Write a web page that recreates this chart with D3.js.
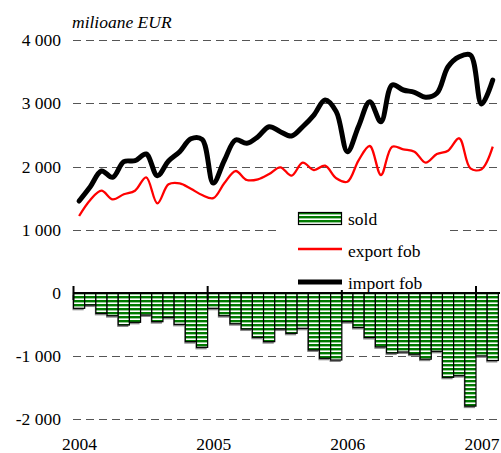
<!DOCTYPE html>
<html>
<head>
<meta charset="utf-8">
<script src="https://cdn.jsdelivr.net/npm/d3@7"></script>
</head>
<body style="margin:0;background:#fff">
<svg id="chart" style="display:block"></svg>
<script>
const width = 501;
const height = 453;
const serif = "'Liberation Serif', serif";

// monthly data, Jan 2004 - Feb 2007 (milioane EUR)
const years = [2004, 2005, 2006, 2007];
const exportFob = [1218, 1472, 1619, 1482, 1562, 1619, 1830, 1419, 1720, 1736, 1650, 1550,
	1500, 1740, 1930, 1788, 1799, 1883, 1989, 1856, 2062, 1946, 2014, 1815,
	1761, 2100, 2326, 1867, 2315, 2274, 2236, 2062, 2199, 2252, 2448, 1973,
	1960, 2315];
const importFob = [1456, 1682, 1930, 1830, 2078, 2093, 2199, 1856, 2089, 2236, 2440, 2430,
	1740, 2100, 2421, 2368, 2473, 2631, 2552, 2484, 2631, 2816, 3054, 2870,
	2236, 2640, 3027, 2710, 3291, 3212, 3176, 3097, 3160, 3581, 3739, 3766,
	2990, 3370];
const sold = [-242, -190, -322, -359, -506, -464, -348, -454, -385, -496, -770, -860,
	-242, -359, -486, -570, -701, -770, -570, -638, -559, -902, -1033, -1060,
	-454, -546, -704, -852, -949, -933, -968, -1047, -923, -1334, -1308, -1790,
	-995, -1068];
const yTicks = [-2000, -1000, 0, 1000, 2000, 3000, 4000];

const svg = d3.select("#chart").attr("width", width).attr("height", height);

const x = d3.scaleLinear().domain([0, sold.length]).range([73.5, 73.5 + sold.length * 11.18]);
const y = d3.scaleLinear().domain([-2000, 4000]).range([419.4, 40.2]);

const fmt = d3.formatLocale({ decimal: ",", thousands: " ", grouping: [3], currency: ["", ""], minus: "-" }).format(",d");

// stripe pattern for bars
const defs = svg.append("defs");
const pat = defs.append("pattern")
	.attr("id", "stripes")
	.attr("patternUnits", "userSpaceOnUse")
	.attr("width", 8).attr("height", 4);
pat.append("rect").attr("width", 8).attr("height", 4).attr("fill", "#fff");
pat.append("rect").attr("y", 0).attr("width", 8).attr("height", 2.4).attr("fill", "#007a00");

// gridlines
svg.append("g").attr("class", "grid")
	.selectAll("line")
	.data(yTicks.filter((d) => d !== 0))
	.enter()
	.append("line")
	.attr("x1", 73).attr("x2", 500)
	.attr("y1", (d) => Math.round(y(d)) + 0.5)
	.attr("y2", (d) => Math.round(y(d)) + 0.5)
	.attr("stroke", "#555")
	.attr("stroke-width", 1.2)
	.attr("stroke-dasharray", "8,5");

// y labels
svg.append("g").attr("class", "ylabels")
	.selectAll("text")
	.data(yTicks)
	.enter()
	.append("text")
	.attr("x", 61)
	.attr("y", (d) => y(d) + 6)
	.attr("text-anchor", "end")
	.style("font-family", serif)
	.style("font-size", "17.5px")
	.text((d) => fmt(d));

svg.append("text")
	.attr("x", 72).attr("y", 28)
	.style("font-family", serif)
	.style("font-size", "17.5px")
	.style("font-style", "italic")
	.text("milioane EUR");

// bars (sold)
const bars = svg.append("g").attr("class", "bars");
bars.selectAll("rect.shadow")
	.data(sold)
	.enter()
	.append("rect")
	.attr("class", "shadow")
	.attr("x", (d, i) => x(i) - 1)
	.attr("y", y(0) + 2)
	.attr("width", (d, i) => x(i + 1) - x(i))
	.attr("height", (d) => y(d) - y(0))
	.attr("fill", "#888");
bars.selectAll("rect.bar")
	.data(sold)
	.enter()
	.append("rect")
	.attr("class", "bar")
	.attr("x", (d, i) => x(i))
	.attr("y", y(0))
	.attr("width", (d, i) => x(i + 1) - x(i))
	.attr("height", (d) => y(d) - y(0))
	.attr("fill", "url(#stripes)")
	.attr("stroke", "#000")
	.attr("stroke-width", 1.2);

// zero axis + year ticks
svg.append("line")
	.attr("x1", 73).attr("x2", 500)
	.attr("y1", y(0)).attr("y2", y(0))
	.attr("stroke", "#000").attr("stroke-width", 2.2);

svg.append("g").attr("class", "xticks")
	.selectAll("line")
	.data(years)
	.enter()
	.append("line")
	.attr("x1", (d) => x((d - 2004) * 12)).attr("x2", (d) => x((d - 2004) * 12))
	.attr("y1", 286).attr("y2", 300)
	.attr("stroke", "#000").attr("stroke-width", 2);

svg.append("g").attr("class", "xlabels")
	.selectAll("text")
	.data(years)
	.enter()
	.append("text")
	.attr("x", (d) => x((d - 2004) * 12) + 6)
	.attr("y", 450)
	.attr("text-anchor", "middle")
	.style("font-family", serif)
	.style("font-size", "17.5px")
	.text((d) => d);

// lines
const line = d3.line()
	.x((d, i) => x(i + 0.5))
	.y((d) => y(d))
	.curve(d3.curveCatmullRom.alpha(0.5));

svg.append("path")
	.datum(exportFob)
	.attr("d", line)
	.attr("fill", "none")
	.attr("stroke", "#ff0000")
	.attr("stroke-width", 2.3);

svg.append("path")
	.datum(importFob)
	.attr("d", line)
	.attr("fill", "none")
	.attr("stroke", "#000")
	.attr("stroke-width", 5)
	.attr("stroke-linejoin", "round")
	.attr("stroke-linecap", "round");

// legend
const legend = svg.append("g").attr("class", "legend");
legend.append("rect")
	.attr("x", 277).attr("y", 201)
	.attr("width", 170).attr("height", 89)
	.attr("fill", "#fff");
legend.append("rect")
	.attr("x", 298.5).attr("y", 212.5)
	.attr("width", 43).attr("height", 12)
	.attr("fill", "url(#stripes)")
	.attr("stroke", "#000").attr("stroke-width", 1.2);
legend.append("line")
	.attr("x1", 298).attr("x2", 342).attr("y1", 249).attr("y2", 249)
	.attr("stroke", "#ff0000").attr("stroke-width", 2.3);
legend.append("line")
	.attr("x1", 298).attr("x2", 342).attr("y1", 282).attr("y2", 282)
	.attr("stroke", "#000").attr("stroke-width", 5);
const labels = ["sold", "export fob", "import fob"];
legend.selectAll("text")
	.data(labels)
	.enter()
	.append("text")
	.attr("x", 348)
	.attr("y", (d, i) => 224.5 + i * 32.3)
	.style("font-family", serif)
	.style("font-size", "17.5px")
	.text((d) => d);
</script>
</body>
</html>
